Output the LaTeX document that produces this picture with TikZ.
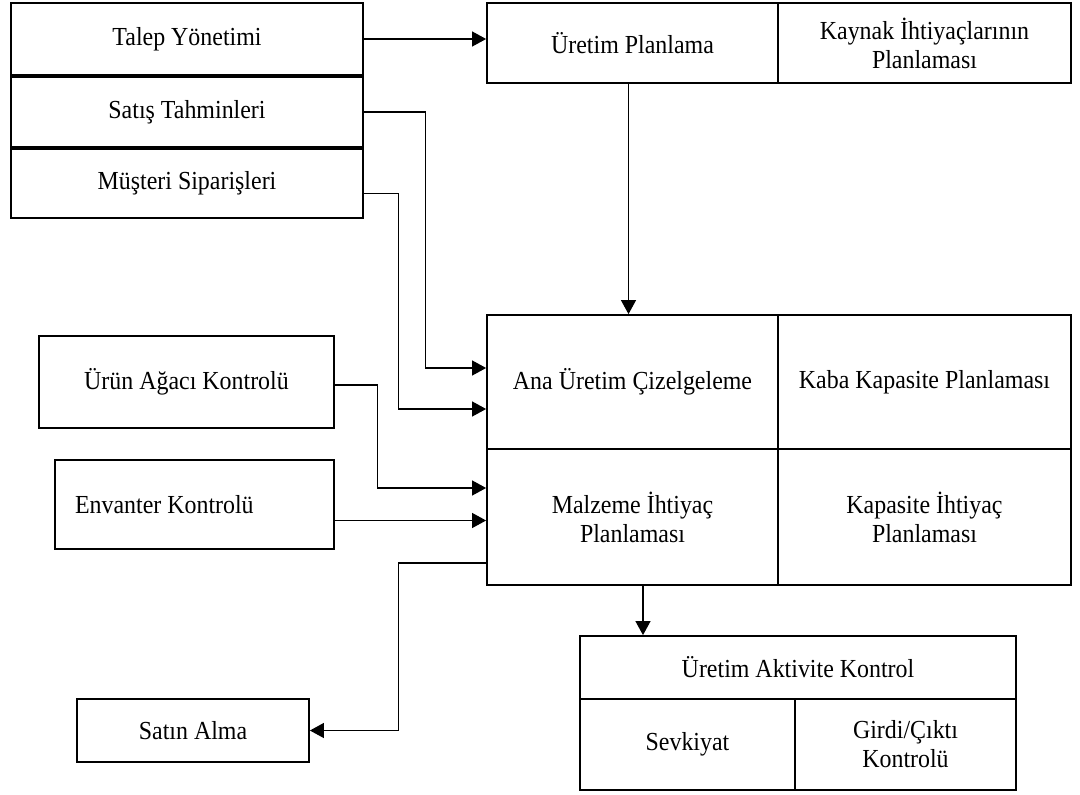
\documentclass[tikz,border=0pt]{standalone}
\usepackage{fontspec}
\setmainfont[FakeStretch=0.92]{Liberation Serif}
\usetikzlibrary{arrows.meta,calc}
\begin{document}
\begin{tikzpicture}[x=1pt,y=-1pt,
  blk/.style={draw,line width=1.8pt,align=center,inner sep=0pt,
    font=\fontsize{26}{29}\selectfont},
  arr/.style={line width=1.1pt,-{Triangle[length=14pt,width=15pt]}}]
\useasboundingbox (0,0) rectangle (1080,795);

% demand side stack
\node[blk,minimum width=352,minimum height=72] (talep) at (187,39) {Talep Yönetimi};
\node[blk,minimum width=352,minimum height=70] (satis) at (187,112) {Satış Tahminleri};
\node[blk,minimum width=352,minimum height=69] (mus) at (187,183.5) {Müşteri Siparişleri};

% production planning
\node[blk,minimum width=291,minimum height=80] (upl) at (632.5,43) {Üretim Planlama};
\node[blk,minimum width=293,minimum height=80] (kay) at (924.5,43) {Kaynak İhtiyaçlarının\\Planlaması};

% master scheduling block
\node[blk,minimum width=291,minimum height=134] (ana) at (632.5,382) {Ana Üretim Çizelgeleme};
\node[blk,minimum width=293,minimum height=134] (kaba) at (924.5,382) {Kaba Kapasite Planlaması};
\node[blk,minimum width=291,minimum height=136] (malz) at (632.5,517) {Malzeme İhtiyaç\\Planlaması};
\node[blk,minimum width=293,minimum height=136] (kap) at (924.5,517) {Kapasite İhtiyaç\\Planlaması};

% inputs on the left
\node[blk,minimum width=295,minimum height=92] (urun) at (186.5,382) {Ürün Ağacı Kontrolü};
\node[blk,minimum width=279,minimum height=89] (env) at (194.5,504.5) {\makebox[239pt][l]{Envanter Kontrolü}};
\node[blk,minimum width=232,minimum height=63] (satin) at (193,730.5) {Satın Alma};

% shop floor control
\node[blk,minimum width=436,minimum height=63] (uak) at (798,667.5) {Üretim Aktivite Kontrol};
\node[blk,minimum width=215,minimum height=91] (sevk) at (687.5,744.5) {Sevkiyat};
\node[blk,minimum width=221,minimum height=91] (gc) at (905.5,744.5) {Girdi/Çıktı\\Kontrolü};

% connectors
\draw[arr] (talep.east) -- (talep.east -| upl.west);
\draw[arr] ($(upl.south)+(-4,0)$) -- ($(ana.north)+(-4,0)$);
\draw[arr] (satis.east) -| ($(ana.west)+(-61,-14)$) -- ($(ana.west)+(0,-14)$);
\draw[arr] ($(mus.east)+(0,10)$) -| ($(ana.west)+(-88,27)$) -- ($(ana.west)+(0,27)$);
\draw[arr] ($(urun.east)+(0,3)$) -| ($(malz.west)+(-109,-29)$) -- ($(malz.west)+(0,-29)$);
\draw[arr] ($(env.east)+(0,16)$) coordinate (envout) -- (envout -| malz.west);
\draw[arr] ($(malz.west)+(0,46)$) -- ++(-88,0) |- (satin.east);
\draw[arr] ($(malz.south)+(10.5,0)$) coordinate (malzout) -- (malzout |- uak.north);
\end{tikzpicture}
\end{document}
